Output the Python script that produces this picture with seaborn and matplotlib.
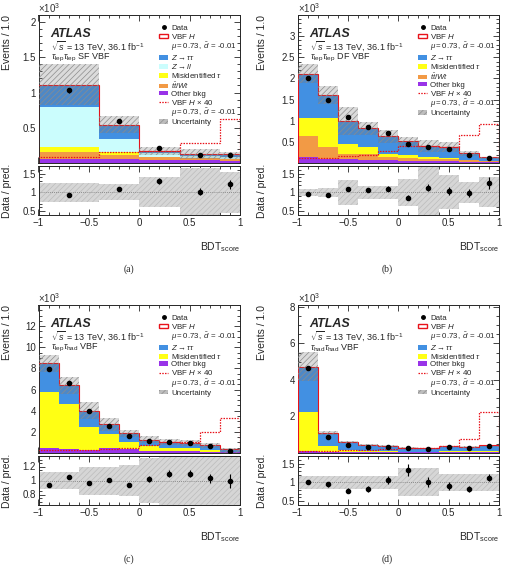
import numpy as np
import pandas as pd
import seaborn as sns
import matplotlib.pyplot as plt
from matplotlib.patches import Patch, Rectangle
from matplotlib.lines import Line2D
from matplotlib.ticker import AutoMinorLocator, FuncFormatter

# ---- panel (a): tau_lep tau_lep SF VBF  (values in 10^3 events)
edges_a = [-1, -0.4, 0, 0.4, 0.8, 1]
other_a = [0.05, 0.055, 0.045, 0.04, 0.035]
ttbar_a = [0.11, 0.065, 0.035, 0.025, 0.02]
misid_a = [0.07, 0.04, 0.005, 0.005, 0.005]
zll_a = [0.57, 0.18, 0.05, 0.03, 0.025]
ztt_a = [0.31, 0.20, 0.035, 0.026, 0.025]
unc_a = [0.29, 0.12, 0.06, 0.07, 0.05]
sig40_a = [0.08, 0.15, 0.17, 0.28, 0.63]
data_a = [1.03, 0.59, 0.21, 0.12, 0.12]
dataerr_a = [0.03, 0.025, 0.015, 0.012, 0.012]
ratio_a = [0.93, 1.10, 1.30, 1.02, 1.22]
ratioerr_a = [0.03, 0.04, 0.08, 0.10, 0.12]
band_a = [0.25, 0.21, 0.40, 0.65, 0.55]

# ---- panel (b): tau_lep tau_lep DF VBF
edges_b = [-1, -0.8, -0.6, -0.4, -0.2, 0, 0.2, 0.4, 0.6, 0.8, 1]
other_b = [0.14, 0.10, 0.09, 0.08, 0.06, 0.05, 0.04, 0.04, 0.03, 0.02]
ttbar_b = [0.49, 0.28, 0.12, 0.13, 0.08, 0.08, 0.06, 0.05, 0.03, 0.02]
misid_b = [0.43, 0.68, 0.23, 0.16, 0.07, 0.05, 0.04, 0.03, 0.02, 0.01]
ztt_b = [1.05, 0.55, 0.55, 0.45, 0.42, 0.32, 0.26, 0.26, 0.14, 0.07]
unc_b = [0.22, 0.22, 0.33, 0.16, 0.15, 0.12, 0.14, 0.12, 0.06, 0.03]
sig40_b = [0.12, 0.12, 0.17, 0.20, 0.29, 0.40, 0.40, 0.38, 0.66, 0.92]
data_b = [2.0, 1.48, 1.08, 0.86, 0.70, 0.44, 0.37, 0.33, 0.20, 0.11]
dataerr_b = [0.045, 0.04, 0.033, 0.03, 0.026, 0.021, 0.019, 0.018, 0.014, 0.01]
ratio_b = [0.96, 0.92, 1.10, 1.06, 1.10, 0.86, 1.12, 1.03, 0.98, 1.25]
ratioerr_b = [0.03, 0.04, 0.05, 0.05, 0.06, 0.07, 0.09, 0.10, 0.10, 0.15]
band_b = [0.10, 0.12, 0.34, 0.18, 0.18, 0.35, 0.70, 0.45, 0.28, 0.40]

# ---- panel (c): tau_lep tau_had VBF
edges_c = edges_b
other_c = [0.45, 0.40, 0.30, 0.50, 0.35, 0.20, 0.15, 0.15, 0.10, 0.05]
misid_c = [5.35, 4.20, 2.20, 1.30, 0.65, 0.50, 0.35, 0.30, 0.20, 0.05]
ztt_c = [2.70, 1.80, 1.50, 0.90, 0.85, 0.55, 0.53, 0.50, 0.42, 0.15]
unc_c = [0.80, 0.80, 0.80, 0.60, 0.35, 0.35, 0.27, 0.25, 0.23, 0.22]
sig40_c = [0.30, 0.30, 0.30, 0.35, 0.47, 0.72, 1.0, 1.0, 1.95, 3.3]
data_c = [7.97, 6.60, 3.95, 2.60, 1.65, 1.15, 1.00, 0.90, 0.63, 0.22]
dataerr_c = [0.09, 0.08, 0.06, 0.05, 0.04, 0.034, 0.032, 0.03, 0.025, 0.015]
ratio_c = [0.94, 1.05, 0.97, 1.01, 0.94, 1.02, 1.10, 1.10, 1.03, 1.00]
ratioerr_c = [0.012, 0.015, 0.02, 0.025, 0.03, 0.04, 0.05, 0.05, 0.06, 0.10]
band_c = [0.12, 0.12, 0.20, 0.20, 0.22, 0.32, 0.35, 0.35, 0.40, 0.40]

# ---- panel (d): tau_had tau_had VBF
edges_d = edges_b
other_d = [0.10, 0.06, 0.04, 0.03, 0.03, 0.03, 0.03, 0.03, 0.03, 0.03]
misid_d = [2.17, 0.30, 0.14, 0.09, 0.07, 0.05, 0.04, 0.07, 0.07, 0.07]
ztt_d = [2.46, 0.73, 0.40, 0.33, 0.30, 0.19, 0.17, 0.25, 0.23, 0.26]
unc_d = [0.80, 0.13, 0.06, 0.05, 0.05, 0.04, 0.04, 0.04, 0.04, 0.04]
sig40_d = [0.10, 0.12, 0.15, 0.18, 0.20, 0.25, 0.30, 0.36, 0.78, 2.24]
data_d = [4.67, 0.90, 0.42, 0.31, 0.31, 0.27, 0.20, 0.31, 0.27, 0.38]
dataerr_d = [0.07, 0.03, 0.02, 0.018, 0.018, 0.016, 0.014, 0.018, 0.016, 0.02]
ratio_d = [1.00, 0.95, 0.78, 0.83, 1.07, 1.33, 1.02, 0.90, 0.83, 1.12]
ratioerr_d = [0.03, 0.06, 0.06, 0.08, 0.10, 0.16, 0.13, 0.10, 0.08, 0.09]
band_d = [0.17, 0.17, 0.18, 0.18, 0.18, 0.37, 0.37, 0.22, 0.22, 0.22]

colors = {'ztt': '#4290e2', 'zll': '#cbfdfd', 'misid': '#ffff14',
          'ttbar': '#f29a45', 'other': '#9933e8'}
labels = {'ztt': r'$Z\rightarrow\tau\tau$', 'zll': r'$Z\rightarrow ll$',
          'misid': r'Misidentified $\tau$', 'ttbar': r'$t\bar{t}/Wt$',
          'other': 'Other bkg'}

sns.set_style('ticks')
plt.rcParams['font.family'] = ['Liberation Sans', 'DejaVu Sans']
plt.rcParams['mathtext.fontset'] = 'custom'
plt.rcParams['mathtext.rm'] = 'Liberation Sans'
plt.rcParams['mathtext.it'] = 'Liberation Sans:italic'
plt.rcParams['mathtext.bf'] = 'Liberation Sans:bold'
plt.rcParams['hatch.linewidth'] = 0.5
plt.rcParams['axes.linewidth'] = 0.7

fig = plt.figure(figsize=(5.05, 5.67), dpi=100)
W, H = 505.0, 567.0

fmt = FuncFormatter(lambda v, _: f'{v:g}'.replace('-', '\u2212'))


def style_ticks(ax, nminor_y):
    ax.tick_params(which='both', direction='in', top=True, right=True,
                   labelsize=7, width=0.6, pad=2)
    ax.tick_params(which='major', length=4)
    ax.tick_params(which='minor', length=2)
    ax.xaxis.set_minor_locator(AutoMinorLocator(5))
    ax.yaxis.set_minor_locator(AutoMinorLocator(nminor_y))
    ax.yaxis.set_major_formatter(fmt)
    ax.xaxis.set_major_formatter(fmt)


def panel(left_px, top_px, edges, comps, unc, sig40, data, dataerr,
          ratio, ratioerr, band, ymax, yticks, nminor, rlim, rticks,
          rminor, channel, tag, labx):
    edges = np.array(edges, dtype=float)
    centers = 0.5 * (edges[1:] + edges[:-1])
    widths = np.diff(edges)
    axm = fig.add_axes([left_px / W, 1 - (top_px + 148) / H, 201.5 / W, 148 / H])
    axr = fig.add_axes([left_px / W, 1 - (top_px + 200) / H, 201.5 / W, 49 / H])

    # stacked backgrounds
    order = [k for k in ['ztt', 'zll', 'misid', 'ttbar', 'other'] if k in comps]
    df = pd.concat([pd.DataFrame({'x': centers, 'w': comps[k], 'proc': k})
                    for k in order], ignore_index=True)
    sns.histplot(data=df, x='x', weights='w', hue='proc', hue_order=order,
                 palette=colors, multiple='stack', bins=edges.tolist(),
                 element='bars', linewidth=0, alpha=1, legend=False, ax=axm)
    total = np.sum([comps[k] for k in order], axis=0)
    sig = np.array(sig40) / 40.0
    axm.stairs(total + sig, edges, color='#e8121a', lw=0.8, zorder=3)
    axm.bar(centers, 2 * np.array(unc), bottom=total - np.array(unc),
            width=widths, facecolor=(0.45, 0.45, 0.45, 0.25), hatch='//////',
            edgecolor='#8c8c8c', linewidth=0, zorder=4)
    axm.stairs(sig40, edges, color='#e8121a', lw=0.9, ls=(0, (1.2, 1.0)), zorder=5)
    axm.errorbar(centers, data, yerr=dataerr, fmt='o', color='k', ms=3,
                 elinewidth=0.8, capsize=0, zorder=6)
    axm.set_xlim(-1, 1)
    axm.set_ylim(0, ymax)
    axm.set_yticks(yticks)
    style_ticks(axm, nminor)
    axm.tick_params(labelbottom=False)
    axm.set_xlabel('')
    axm.set_ylabel('Events / 1.0', fontsize=7.5, ha='right')
    axm.yaxis.set_label_coords(labx, 1.0)
    axm.text(0.0, 1.0, r'$\times10^3$', transform=axm.transAxes, fontsize=7,
             ha='left', va='bottom', color='#333333')

    axm.text(0.06, 0.915, 'ATLAS', transform=axm.transAxes, fontsize=9,
             fontweight='bold', fontstyle='italic', va='top')
    axm.text(0.06, 0.835, r'$\sqrt{s}$ = 13 TeV, 36.1 fb$^{-1}$',
             transform=axm.transAxes, fontsize=6.5, va='top')
    axm.text(0.06, 0.75, channel, transform=axm.transAxes, fontsize=6.5,
             va='top')

    blank = Rectangle((0, 0), 1, 1, visible=False)
    mu_lab = r'$\mu = 0.73,\ \tilde{d}$ = -0.01'
    handles = [Line2D([], [], marker='o', color='k', ls='none', ms=2.5),
               Patch(facecolor='white', edgecolor='#e8121a', lw=1.0), blank]
    labs = ['Data', r'VBF $H$', mu_lab]
    for k in order:
        handles.append(Patch(facecolor=colors[k], lw=0))
        labs.append(labels[k])
    handles += [Line2D([], [], color='#e8121a', lw=0.9, ls=(0, (1.2, 1.0))), blank,
                Patch(facecolor='#bdbdbd', hatch='//////', edgecolor='#8c8c8c', lw=0)]
    labs += [r'VBF $H$ $\times$ 40', mu_lab, 'Uncertainty']
    axm.legend(handles, labs, loc='upper left', bbox_to_anchor=(0.6, 0.935),
               frameon=False, fontsize=5.7, handlelength=1.05, handleheight=0.5,
               handletextpad=0.45, labelspacing=0.0, borderaxespad=0,
               borderpad=0)

    # ratio panel
    band = np.array(band)
    axr.bar(centers, 2 * band, bottom=1 - band, width=widths,
            facecolor='#d6d6d6', hatch='//////', edgecolor='#bcbcbc',
            linewidth=0, zorder=1)
    axr.axhline(1, color='#777777', lw=0.6, ls=(0, (1, 1.5)), zorder=2)
    axr.errorbar(centers, ratio, yerr=ratioerr, fmt='o', color='k', ms=3,
                 elinewidth=0.8, capsize=0, zorder=3)
    axr.set_xlim(-1, 1)
    axr.set_ylim(*rlim)
    axr.set_yticks(rticks)
    axr.set_xticks([-1, -0.5, 0, 0.5, 1])
    style_ticks(axr, rminor)
    axr.set_ylabel('Data / pred.', fontsize=7.5)
    axr.yaxis.set_label_coords(labx, 0.5)

    fig.text((left_px + 201.5) / W, 1 - (top_px + 232) / H, r'BDT$_{\rm score}$',
             fontsize=7.5, ha='right', va='center')
    fig.text((left_px + 90) / W, 1 - (top_px + 254) / H, tag, fontsize=7,
             family='Liberation Serif', ha='center', va='center')


panel(38.5, 15, edges_a,
      {'ztt': ztt_a, 'zll': zll_a, 'misid': misid_a, 'ttbar': ttbar_a, 'other': other_a},
      unc_a, sig40_a, data_a, dataerr_a, ratio_a, ratioerr_a, band_a,
      2.1, [0.5, 1, 1.5, 2], 5, (0.4, 1.7), [0.5, 1, 1.5], 5,
      r'$\tau_{\rm lep}\tau_{\rm lep}$ SF VBF', '(a)', -0.13)
panel(297.5, 15, edges_b,
      {'ztt': ztt_b, 'misid': misid_b, 'ttbar': ttbar_b, 'other': other_b},
      unc_b, sig40_b, data_b, dataerr_b, ratio_b, ratioerr_b, band_b,
      3.5, [0.5, 1, 1.5, 2, 2.5, 3], 5, (0.4, 1.7), [0.5, 1, 1.5], 5,
      r'$\tau_{\rm lep}\tau_{\rm lep}$ DF VBF', '(b)', -0.15)
panel(38.5, 305, edges_c,
      {'ztt': ztt_c, 'misid': misid_c, 'other': other_c},
      unc_c, sig40_c, data_c, dataerr_c, ratio_c, ratioerr_c, band_c,
      14, [2, 4, 6, 8, 10, 12], 4, (0.65, 1.35), [0.8, 1, 1.2], 4,
      r'$\tau_{\rm lep}\tau_{\rm had}$ VBF', '(c)', -0.13)
panel(297.5, 305, edges_d,
      {'ztt': ztt_d, 'misid': misid_d, 'other': other_d},
      unc_d, sig40_d, data_d, dataerr_d, ratio_d, ratioerr_d, band_d,
      8.1, [2, 4, 6, 8], 4, (0.4, 1.7), [0.5, 1, 1.5], 5,
      r'$\tau_{\rm had}\tau_{\rm had}$ VBF', '(d)', -0.15)

fig.savefig('out.png', dpi=100)
